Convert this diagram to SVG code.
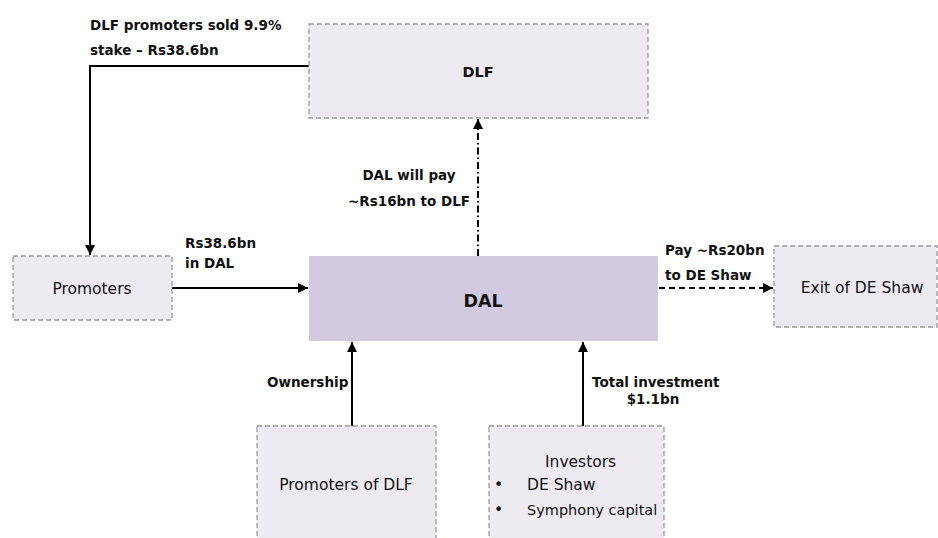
<svg xmlns="http://www.w3.org/2000/svg" width="938" height="538" viewBox="0 0 938 538">
<defs>
<marker id="ah" viewBox="0 0 10 10" refX="10" refY="5" markerWidth="10" markerHeight="10" markerUnits="userSpaceOnUse" orient="auto">
<path d="M0,0 L10,5 L0,10 Z" fill="#000"/>
</marker>
<style>
.box{fill:#EDEAF2;stroke:#9A9A9A;stroke-width:1.3;stroke-dasharray:5,3}
.dal{fill:#D2CAE0}
.t{font-family:"DejaVu Sans",Verdana,sans-serif;font-size:15.5px;fill:#111}
.b{font-family:"DejaVu Sans",Verdana,sans-serif;font-size:13.5px;font-weight:bold;fill:#111}
.c{text-anchor:middle}
.ln{fill:none;stroke:#000;stroke-width:2}
</style>
</defs>
<rect width="938" height="538" fill="#fff"/>
<g id="connectors">
<path class="ln" d="M309,66 H90 V255" marker-end="url(#ah)"/>
<path class="ln" d="M172,288 H308" marker-end="url(#ah)"/>
<path class="ln" d="M478,256 V119" stroke-dasharray="7,3,1.5,3" marker-end="url(#ah)"/>
<path class="ln" d="M659,288 H773" stroke-dasharray="6,4" marker-end="url(#ah)"/>
<path class="ln" d="M352,426 V342" marker-end="url(#ah)"/>
<path class="ln" d="M583,426 V342" marker-end="url(#ah)"/>
<text class="b" x="90" y="30">DLF promoters sold 9.9%</text>
<text class="b" x="90" y="55">stake – Rs38.6bn</text>
<text class="b c" x="409" y="180">DAL will pay</text>
<text class="b c" x="409" y="206">~Rs16bn to DLF</text>
<text class="b" x="185" y="248">Rs38.6bn</text>
<text class="b" x="185" y="268">in DAL</text>
<text class="b" x="665" y="255">Pay ~Rs20bn</text>
<text class="b" x="665" y="280">to DE Shaw</text>
<text class="b" x="267" y="387">Ownership</text>
<text class="b" x="592" y="387">Total investment</text>
<text class="b c" x="653" y="404">$1.1bn</text>
</g>
<g id="dlf">
<rect class="box" x="309" y="24" width="339" height="94"/>
<text class="b c" x="478" y="77" style="font-size:14.5px">DLF</text>
</g>
<g id="promoters">
<rect class="box" x="13" y="256" width="159" height="64"/>
<text class="t c" x="92" y="294">Promoters</text>
</g>
<g id="dal">
<rect class="dal" x="309" y="256" width="349" height="85"/>
<text class="b c" x="483" y="307" style="font-size:17.5px">DAL</text>
</g>
<g id="exit">
<rect class="box" x="774" y="246" width="163" height="81"/>
<text class="t c" x="862" y="293">Exit of DE Shaw</text>
</g>
<g id="promoters-of-dlf">
<rect class="box" x="257" y="426" width="179" height="116"/>
<text class="t c" x="346" y="490">Promoters of DLF</text>
</g>
<g id="investors">
<rect class="box" x="489" y="426" width="175" height="116"/>
<text class="t" x="545" y="467">Investors</text>
<text class="t" x="494" y="490">•</text>
<text class="t" x="527" y="490">DE Shaw</text>
<text class="t" x="494" y="515">•</text>
<text class="t" x="527" y="515" style="font-size:14.5px">Symphony capital</text>
</g>
</svg>
